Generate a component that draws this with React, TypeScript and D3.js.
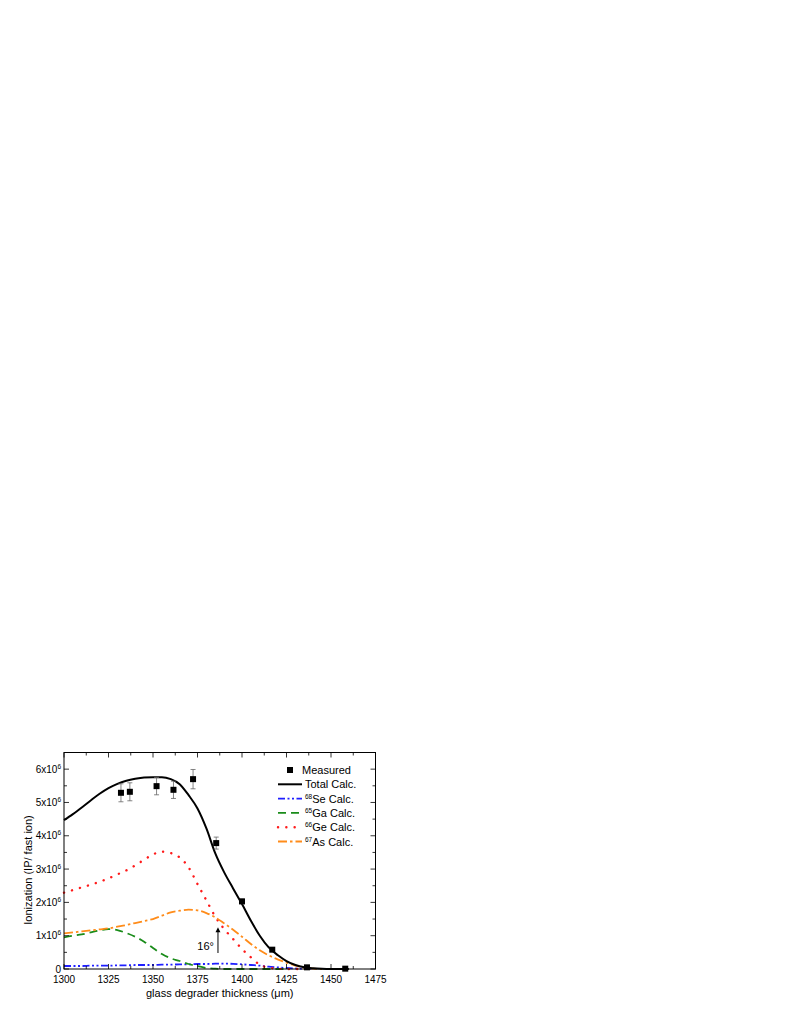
import React from 'react';
import * as d3 from 'd3';

// thickness grid for the calculated curves (µm)
const thickness = [
  1300, 1305, 1310, 1315, 1320, 1325, 1330, 1335, 1340, 1345, 1350,
  1355, 1360, 1365, 1370, 1375, 1380, 1385, 1390, 1395, 1400, 1405,
  1410, 1415, 1420, 1425, 1430, 1435, 1440, 1445, 1450, 1455, 1460,
];

// values in units of 1e6
const totalCalc = [
  4.47, 4.65, 4.85, 5.06, 5.26, 5.43, 5.56, 5.65, 5.71, 5.75, 5.76,
  5.76, 5.7, 5.55, 5.22, 4.82, 4.22, 3.47, 2.9, 2.42, 1.95, 1.45,
  1.0, 0.65, 0.42, 0.24, 0.12, 0.05, 0.02, 0.005, 0, 0, 0,
];
const seCalc = [
  0.09, 0.09, 0.09, 0.1, 0.1, 0.1, 0.11, 0.11, 0.12, 0.12, 0.12,
  0.13, 0.13, 0.14, 0.14, 0.15, 0.15, 0.16, 0.16, 0.155, 0.14, 0.12,
  0.1, 0.07, 0.05, 0.03, 0.015, 0.005, 0, null, null, null, null,
];
const gaCalc = [
  0.95, 1.0, 1.04, 1.1, 1.16, 1.2, 1.17, 1.08, 0.97, 0.82, 0.63,
  0.45, 0.32, 0.24, 0.15, 0.09, 0.03, 0.01, 0, 0, 0, 0,
  0, 0, 0, 0, null, null, null, null, null, null, null,
];
const geCalc = [
  2.29, 2.37, 2.45, 2.53, 2.62, 2.72, 2.84, 2.96, 3.11, 3.28, 3.44,
  3.52, 3.48, 3.35, 3.05, 2.55, 2.06, 1.57, 1.2, 0.9, 0.6, 0.35,
  0.13, 0.04, 0.01, 0, 0, 0, null, null, null, null, null,
];
const asCalc = [
  1.07, 1.1, 1.13, 1.16, 1.19, 1.22, 1.27, 1.32, 1.38, 1.44, 1.5,
  1.6, 1.7, 1.75, 1.78, 1.76, 1.68, 1.55, 1.37, 1.18, 0.97, 0.75,
  0.56, 0.41, 0.29, 0.19, 0.1, 0.04, 0.01, 0, null, null, null,
];

// measured points
const measX = [1332, 1337, 1352, 1361.5, 1372.5, 1385.5, 1400, 1417, 1436.5, 1458];
const measY = [5.29, 5.32, 5.49, 5.38, 5.7, 3.78, 2.03, 0.58, 0.05, 0.01];
const measErr = [0.27, 0.27, 0.26, 0.26, 0.29, 0.18, 0.07, 0.04, 0, 0];

const xTicks = [1300, 1325, 1350, 1375, 1400, 1425, 1450, 1475];
const yTicks = [0, 1, 2, 3, 4, 5, 6];

const series = [
  { iso: '68', el: 'Se', values: seCalc, color: '#1f1fff', dash: '7,2.5,2,2.5,2,2.5', width: 1.8, cap: 'butt' },
  { iso: '65', el: 'Ga', values: gaCalc, color: '#1a8c1a', dash: '8,5', width: 1.8, cap: 'butt' },
  { iso: '66', el: 'Ge', values: geCalc, color: '#ff1a1a', dash: '0.1,8.2', width: 2.4, cap: 'round' },
  { iso: '67', el: 'As', values: asCalc, color: '#ff8c1a', dash: '9,3,2.5,3', width: 1.8, cap: 'butt' },
];

const W = 789;
const H = 1021;
const left = 64;
const right = 375.5;
const top = 752.5;
const bottom = 969;

export default function App() {
  const x = d3.scaleLinear().domain([1300, 1475]).range([left, right]);
  const y = d3.scaleLinear().domain([0, 6.5]).range([bottom, top]);

  const line = d3
    .line<number | null>()
    .defined((d) => d !== null)
    .x((_, i) => x(thickness[i]))
    .y((d) => y(d as number))
    .curve(d3.curveMonotoneX);

  const xMinor = d3.range(1300, 1475.1, 12.5);
  const yMinor = d3.range(0, 6.51, 0.5);
  const font = 'Liberation Sans, Arial, sans-serif';

  const legX = 278;
  const legY = 770;
  const legStep = 14.3;

  return (
    <svg width={W} height={H} style={{ position: 'absolute', left: 0, top: 0 }} fontFamily={font}>
      <rect width={W} height={H} fill="white" />

      {/* calculated curves */}
      {series.map((s) => (
        <path key={s.el} d={line(s.values) || ''} fill="none" stroke={s.color}
          strokeWidth={s.width} strokeDasharray={s.dash} strokeLinecap={s.cap as any} />
      ))}
      <path d={line(totalCalc) || ''} fill="none" stroke="#000" strokeWidth={2} />

      {/* measured with error bars */}
      {measX.map((mx, i) => {
        const cx = x(mx);
        const cy = y(measY[i]);
        const e = measErr[i];
        return (
          <g key={i}>
            {e > 0 && (
              <g stroke="#666" strokeWidth={0.8}>
                <line x1={cx} x2={cx} y1={y(measY[i] + e)} y2={y(measY[i] - e)} />
                <line x1={cx - 2.5} x2={cx + 2.5} y1={y(measY[i] + e)} y2={y(measY[i] + e)} />
                <line x1={cx - 2.5} x2={cx + 2.5} y1={y(measY[i] - e)} y2={y(measY[i] - e)} />
              </g>
            )}
            <rect x={cx - 3} y={cy - 3} width={6} height={6} fill="#000" />
          </g>
        );
      })}

      {/* annotation */}
      <line x1={x(1386.5)} x2={x(1386.5)} y1={y(0.48)} y2={y(1.15)} stroke="#000" strokeWidth={1} />
      <path d={`M${x(1386.5) - 2.5},${y(1.1)} L${x(1386.5)},${y(1.25)} L${x(1386.5) + 2.5},${y(1.1)} Z`} fill="#000" />
      <text x={x(1386.5) - 4} y={y(0.57)} fontSize={11} textAnchor="end">16°</text>

      {/* frame */}
      <rect x={left} y={top} width={right - left} height={bottom - top} fill="none" stroke="#000" strokeWidth={1} />

      {/* ticks */}
      <g stroke="#000" strokeWidth={0.8}>
        {xMinor.map((t) => {
          const major = t % 25 === 0;
          const len = major ? 5 : 3;
          return (
            <g key={'x' + t}>
              <line x1={x(t)} x2={x(t)} y1={bottom} y2={bottom - len} />
              <line x1={x(t)} x2={x(t)} y1={top} y2={top + len} />
            </g>
          );
        })}
        {yMinor.map((t) => {
          const major = Math.abs(t - Math.round(t)) < 1e-6;
          const len = major ? 5 : 3;
          return (
            <g key={'y' + t}>
              <line x1={left} x2={left + len} y1={y(t)} y2={y(t)} />
              <line x1={right} x2={right - len} y1={y(t)} y2={y(t)} />
            </g>
          );
        })}
      </g>

      {/* tick labels */}
      {xTicks.map((t) => (
        <text key={'xl' + t} x={x(t)} y={bottom + 14} fontSize={10} textAnchor="middle">{t}</text>
      ))}
      {yTicks.map((t) => (
        <text key={'yl' + t} x={left - 3} y={y(t) + 3.5} fontSize={10} textAnchor="end">
          {t === 0 ? '0' : (
            <>
              {t}x10<tspan fontSize={6.5} dy={-4}>6</tspan>
            </>
          )}
        </text>
      ))}

      {/* axis titles */}
      <text x={(left + right) / 2} y={997} fontSize={11} textAnchor="middle">glass degrader thickness (μm)</text>
      <text transform={`translate(32, 870) rotate(-90)`} fontSize={11} textAnchor="middle">Ionization (IP/ fast ion)</text>

      {/* legend */}
      <g fontSize={11}>
        <rect x={legX + 9} y={legY - 3} width={6} height={6} fill="#000" />
        <text x={legX + 24} y={legY + 4}>Measured</text>
        <line x1={legX} x2={legX + 24} y1={legY + legStep} y2={legY + legStep} stroke="#000" strokeWidth={2} />
        <text x={legX + 27} y={legY + legStep + 4}>Total Calc.</text>
        {series.map((s, i) => {
          const ly = legY + legStep * (i + 2);
          return (
            <g key={'lg' + s.el}>
              <line x1={legX} x2={legX + 24} y1={ly} y2={ly} stroke={s.color} strokeWidth={s.width}
                strokeDasharray={s.dash} strokeLinecap={s.cap as any} />
              <text x={legX + 27} y={ly + 4}>
                <tspan fontSize={6.5} dy={-4}>{s.iso}</tspan>
                <tspan dy={4}>{s.el} Calc.</tspan>
              </text>
            </g>
          );
        })}
      </g>
    </svg>
  );
}
